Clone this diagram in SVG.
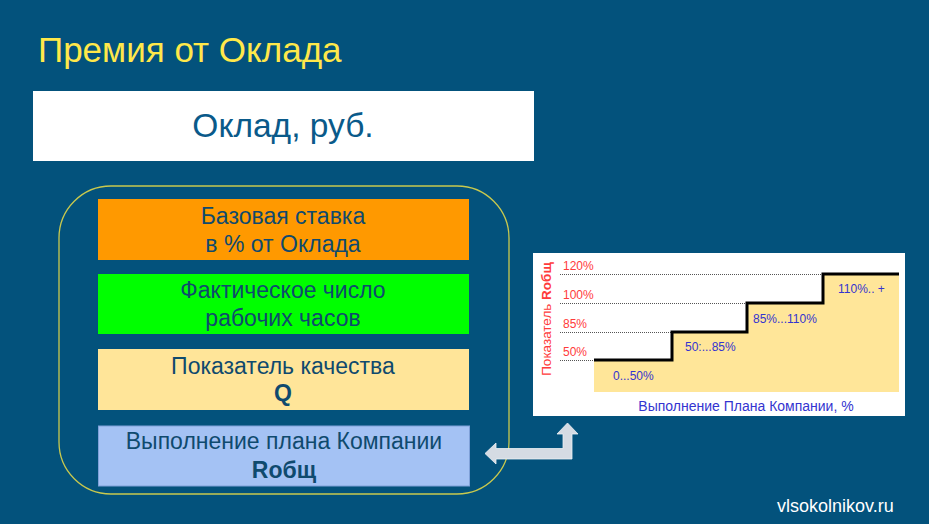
<svg xmlns="http://www.w3.org/2000/svg" width="929" height="524" viewBox="0 0 929 524">
<defs>
<style>
text{font-family:"Liberation Sans",Arial,sans-serif}
.box{stroke:none}
.bt{font-size:23px;fill:#0F4A6E;text-anchor:middle}
.b{font-weight:bold}
.red{fill:#FF3B3B;font-size:12px}
.blu{fill:#3434D0;font-size:12px}
.dot{stroke:#555;stroke-width:1;stroke-dasharray:1,1;fill:none}
</style>
</defs>
<rect x="0" y="0" width="929" height="524" fill="#03527C"/>
<text x="38" y="62" font-size="35" fill="#FFE84A">Премия от Оклада</text>

<g id="oklad">
<rect x="33" y="91" width="501" height="70" fill="#FFFFFF"/>
<text x="283" y="137" font-size="33.5" fill="#0A5A8A" text-anchor="middle">Оклад, руб.</text>
</g>

<g id="container">
<rect x="59" y="186" width="450" height="308" rx="52" ry="52" fill="none" stroke="#C9C94E" stroke-width="1.3"/>
</g>

<g id="base">
<rect class="box" x="98" y="199" width="371" height="61" fill="#FF9900"/>
<text class="bt" x="283" y="224">Базовая ставка</text>
<text class="bt" x="283" y="252">в % от Оклада</text>
</g>

<g id="hours">
<rect class="box" x="98" y="274" width="371" height="60" fill="#00FF00"/>
<text class="bt" x="283" y="298">Фактическое число</text>
<text class="bt" x="283" y="326">рабочих часов</text>
</g>

<g id="quality">
<rect class="box" x="98" y="349" width="371" height="61" fill="#FFE599"/>
<text class="bt" x="283" y="374">Показатель качества</text>
<text class="bt b" x="283" y="401">Q</text>
</g>

<g id="plan">
<rect x="98.5" y="426" width="371" height="60" fill="#A4C2F4" stroke="#7FA0D8" stroke-width="1"/>
<text class="bt" x="284" y="449">Выполнение плана Компании</text>
<text class="bt b" x="284" y="478">Rобщ</text>
</g>

<g id="chart">
<rect x="533" y="253" width="372" height="163" fill="#FFFFFF"/>
<path d="M594 360 H672 V332 H747 V303 H823 V274 H899 V392 H594 Z" fill="#FFE699"/>
<line class="dot" x1="560" y1="360.5" x2="594" y2="360.5"/>
<line class="dot" x1="560" y1="332.5" x2="672" y2="332.5"/>
<line class="dot" x1="560" y1="303.5" x2="747" y2="303.5"/>
<line class="dot" x1="560" y1="274.5" x2="823" y2="274.5"/>
<path d="M594 360 H672 V332 H747 V303 H823 V274 H899" fill="none" stroke="#000" stroke-width="3"/>
<text class="red" x="563" y="270">120%</text>
<text class="red" x="563" y="299">100%</text>
<text class="red" x="563" y="328">85%</text>
<text class="red" x="563" y="356">50%</text>
<text class="blu" x="613" y="380">0...50%</text>
<text class="blu" x="685" y="351">50:...85%</text>
<text class="blu" x="753" y="323">85%...110%</text>
<text class="blu" x="838" y="293">110%.. +</text>
<text x="746" y="411" font-size="14" fill="#3434D0" text-anchor="middle">Выполнение Плана Компании, %</text>
<text transform="translate(551,319) rotate(-90)" font-size="13.5" fill="#FF3B3B" text-anchor="middle">Показатель <tspan font-weight="bold">Rобщ</tspan></text>
</g>

<g id="connectors">
<path d="M485 453.5 L496 443 V448.5 H563 V434 H557 L567.5 423 L578 434 H572 V459 H496 V464 Z" fill="#D5DBE3" stroke="#EEF1F5" stroke-width="0.8"/>
</g>

<text x="777" y="512" font-size="18" fill="#FFFFFF">vlsokolnikov.ru</text>
</svg>
